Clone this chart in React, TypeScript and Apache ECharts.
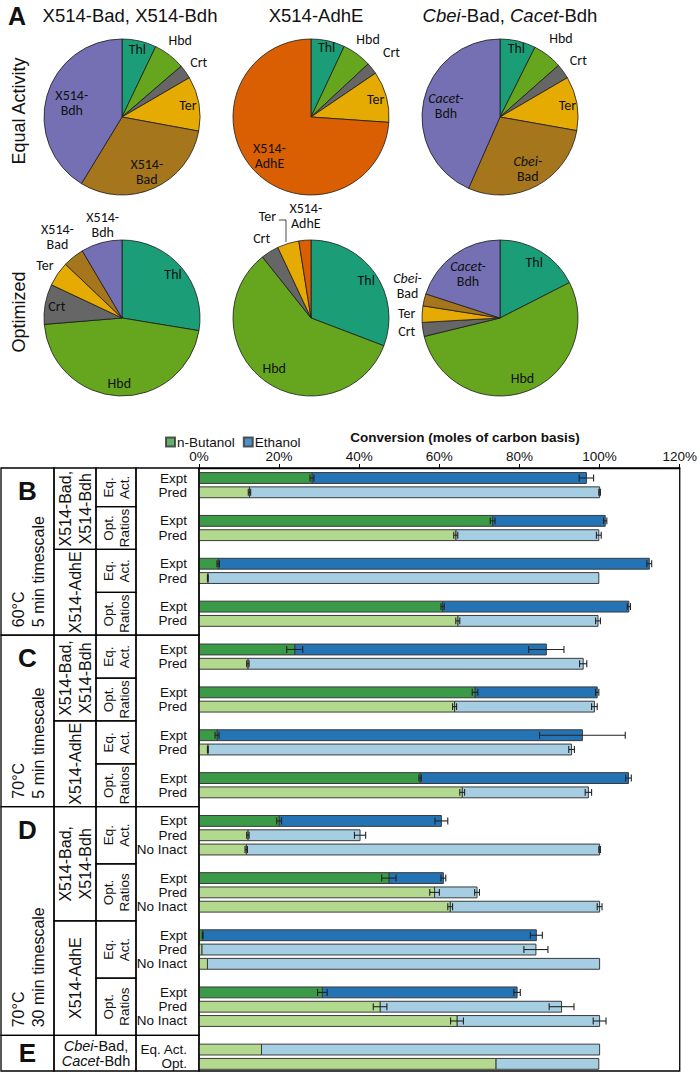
import React, { useEffect, useRef } from 'react';
import * as echarts from 'echarts';

const ARIAL = '"Liberation Sans", Arial, Helvetica, sans-serif';
const CAL = 'Carlito, Lato, "Open Sans", sans-serif';

// ---------------- Panel A: enzyme fractions (%) ----------------
const sliceNamesBadBdh = ['Thl', 'Hbd', 'Crt', 'Ter', 'X514-Bad', 'X514-Bdh'];
const sliceNamesAdhE = ['Thl', 'Hbd', 'Crt', 'Ter', 'X514-AdhE'];
const sliceNamesCbei = ['Thl', 'Hbd', 'Crt', 'Ter', 'Cbei-Bad', 'Cacet-Bdh'];

const eqActBadBdh = [7.1, 6.6, 2.9, 11.3, 30.8, 41.3];
const eqActAdhE = [7.0, 6.1, 2.4, 10.6, 73.9];
const eqActCbei = [7.4, 6.1, 3.1, 11.2, 28.8, 43.4];
const optBadBdh = [27.6, 46.1, 8.3, 5.1, 4.4, 8.5];
const optAdhE = [30.8, 58.5, 3.7, 4.5, 2.5];
const optCbei = [17.5, 53.7, 2.9, 3.4, 2.5, 20.0];

const pieRowTitles = ['Equal Activity', 'Optimized'];

// ---------------- Panels B–E: conversion (%) ----------------
const twoRowLabels = ['Expt', 'Pred'];
const threeRowLabels = ['Expt', 'Pred', 'No Inact'];
const panelERowLabels = ['Eq. Act.', 'Opt.'];
const xTickStep = 20;
const xMax = 120;

// Panel B: 60°C, 5 min  (Bad/Bdh Eq, Bad/Bdh Opt, AdhE Eq, AdhE Opt) x (Expt, Pred)
const panelBButanol = [28.2, 12.6, 73.3, 64.1, 4.8, 2.2, 60.8, 64.6];
const panelBTotal = [96.7, 100.0, 101.4, 99.8, 112.4, 99.8, 107.3, 99.6];
const panelBButanolErr = [0.5, 0.3, 0.6, 0.5, 0.3, 0.1, 0.4, 0.5];
const panelBTotalErr = [1.8, 0.2, 0.4, 0.6, 0.6, 0.0, 0.4, 0.6];

// Panel C: 70°C, 5 min
const panelCButanol = [23.9, 12.2, 68.9, 63.8, 4.5, 2.2, 55.2, 65.7];
const panelCTotal = [86.7, 95.9, 99.4, 98.7, 95.7, 93.0, 107.2, 97.2];
const panelCButanolErr = [2.0, 0.3, 0.7, 0.5, 0.5, 0.1, 0.3, 0.6];
const panelCTotalErr = [4.4, 0.9, 0.4, 0.7, 10.7, 0.7, 0.7, 0.8];

// Panel D: 70°C, 30 min  x (Expt, Pred, No Inact)
const panelDButanol = [20.0, 12.2, 11.8, 47.4, 58.8, 62.7, 0.9, 0.7, 2.1, 30.8, 45.2, 64.4];
const panelDTotal = [60.5, 40.2, 100.0, 61.0, 69.4, 100.0, 84.2, 84.1, 100.0, 79.4, 90.5, 100.0];
const panelDButanolErr = [0.6, 0.3, 0.3, 1.8, 1.2, 0.6, 0.1, 0.0, 0.0, 1.2, 1.7, 1.6];
const panelDTotalErr = [1.6, 1.4, 0.2, 0.6, 0.6, 0.6, 1.5, 3.0, 0.0, 0.8, 3.1, 1.6];

// Panel E: Cbei-Bad, Cacet-Bdh predictions
const panelEButanol = [15.6, 74.1];
const panelETotal = [100.0, 99.8];

// ---------------- layout ----------------
const PIE_R = 78;
const PIE_CENTERS = [[122, 117], [311, 117], [500, 117], [122, 318], [311, 318], [500, 318]];
const PIE_LABEL_RADII = [
  [0.85, 1.19, 1.17, 0.82, 0.74, 0.63],
  [0.88, 1.2, 1.28, 0.82, 0.69],
  [0.87, 1.24, 1.2, 0.84, 0.72, 0.67],
  [0.82, 0.8, 0.81, 1.16, 1.29, 1.19],
  [0.82, 0.76, 1.16, 1.38, 1.3],
  [0.8, 0.79, 1.17, 1.16, 1.22, 0.66],
];
// small pixel nudges for a few pie labels: "pie-slice" -> [dx, dy]
const PIE_LABEL_NUDGE: Record<string, number[]> = {
  '3-5': [6, -1],
  '4-3': [-11, 4],
  '4-4': [3, 2],
  '5-4': [3, -9],
};
const COLS = [1, 54, 96, 136, 199];
const Y_MIN = -0.7;
const Y_MAX = 41.5;

const pieSets = [
  { names: sliceNamesBadBdh, values: eqActBadBdh },
  { names: sliceNamesAdhE, values: eqActAdhE },
  { names: sliceNamesCbei, values: eqActCbei },
  { names: sliceNamesBadBdh, values: optBadBdh },
  { names: sliceNamesAdhE, values: optAdhE },
  { names: sliceNamesCbei, values: optCbei },
];

function sliceColor(n: string) {
  if (n === 'Thl') return '#1b9e77';
  if (n === 'Hbd') return '#66a61e';
  if (n === 'Crt') return '#666666';
  if (n === 'Ter') return '#e6ab02';
  if (n.endsWith('Bad')) return '#a6761d';
  if (n.endsWith('Bdh')) return '#7570b3';
  return '#d95f02';
}
function sliceLabel(n: string) {
  if (n.startsWith('X514-')) return 'X514-\n' + n.slice(5);
  if (n === 'Cbei-Bad') return '{i|Cbei-}\nBad';
  if (n === 'Cacet-Bdh') return '{i|Cacet-}\nBdh';
  return n;
}

function buildPies() {
  const out: any[] = [];
  pieSets.forEach((set, k) => {
    const center = PIE_CENTERS[k];
    out.push({
      type: 'pie', center, radius: PIE_R, startAngle: 90, clockwise: true, silent: true, z: 2,
      label: { show: false }, labelLine: { show: false },
      itemStyle: { borderColor: '#1a1a1a', borderWidth: 0.8 },
      data: set.names.map((n, i) => ({ name: n, value: set.values[i], itemStyle: { color: sliceColor(n) } })),
    });
    const radii = PIE_LABEL_RADII[k];
    Array.from(new Set(radii)).forEach((f) => {
      out.push({
        type: 'pie', center, radius: [(f - 0.04) * PIE_R, (f + 0.04) * PIE_R], startAngle: 90, clockwise: true,
        silent: true, z: 3, minShowLabelAngle: 0, avoidLabelOverlap: false,
        labelLayout: (p: any) => {
          const o = PIE_LABEL_NUDGE[k + '-' + p.dataIndex];
          return o ? { dx: o[0], dy: o[1], hideOverlap: false } : { hideOverlap: false };
        },
        itemStyle: { color: 'rgba(0,0,0,0)', borderWidth: 0 },
        labelLine: { show: false },
        emphasis: { disabled: true },
        label: {
          show: true, position: 'inside', rotate: 0, overflow: 'none', color: '#111', fontFamily: CAL, fontSize: 14, lineHeight: 15,
          formatter: (p: any) => sliceLabel(p.name),
          rich: { i: { fontStyle: 'italic', fontFamily: CAL, fontSize: 14, lineHeight: 15, color: '#111' } },
        },
        data: set.names.map((n, i) => ({ name: n, value: set.values[i], label: { show: radii[i] === f } })),
      });
    });
  });
  return out;
}

// ---------------- bar rows ----------------
type Row = { pos: number; label: string; but: number; tot: number; be: number; te: number; kind: number };
const rows: Row[] = [];
const panelRanges: { start: number; groupEnds: number[] }[] = [];
let cursor = 0;
function addPanel(but: number[], tot: number[], be: number[] | null, te: number[] | null, labels: string[]) {
  const start = cursor === 0 ? Y_MIN : cursor - 1;
  const n = labels.length;
  const ends: number[] = [];
  for (let g = 0; g < but.length / n; g++) {
    for (let i = 0; i < n; i++) {
      const j = g * n + i;
      rows.push({ pos: cursor, label: labels[i], but: but[j], tot: tot[j], be: be ? be[j] : 0, te: te ? te[j] : 0, kind: labels[i] === 'Expt' ? 0 : 1 });
      cursor++;
    }
    ends.push(cursor);
    cursor++;
  }
  panelRanges.push({ start, groupEnds: ends });
}
addPanel(panelBButanol, panelBTotal, panelBButanolErr, panelBTotalErr, twoRowLabels);
addPanel(panelCButanol, panelCTotal, panelCButanolErr, panelCTotalErr, twoRowLabels);
addPanel(panelDButanol, panelDTotal, panelDButanolErr, panelDTotalErr, threeRowLabels);
addPanel(panelEButanol, panelETotal, null, null, panelERowLabels);

const panelLetters = ['B', 'C', 'D'];
const panelTemps = ['60°C\n5 min timescale', '70°C\n5 min timescale', '70°C\n30 min timescale'];
const enzymeTexts = ['X514-Bad,\nX514-Bdh', 'X514-AdhE'];
const condTexts = ['Eq.\nAct.', 'Opt.\nRatios'];

type Cell = { y0: number; y1: number; x0: number; x1: number; kind: string; text?: string };
const cells: Cell[] = [];
panelRanges.slice(0, 3).forEach((pr, p) => {
  const end = pr.groupEnds[3];
  cells.push({ y0: pr.start, y1: end, x0: COLS[0], x1: COLS[1], kind: 'panel', text: String(p) });
  cells.push({ y0: pr.start, y1: pr.groupEnds[1], x0: COLS[1], x1: COLS[2], kind: 'enz', text: enzymeTexts[0] });
  cells.push({ y0: pr.groupEnds[1], y1: end, x0: COLS[1], x1: COLS[2], kind: 'enz', text: enzymeTexts[1] });
  pr.groupEnds.forEach((e, g) => {
    cells.push({ y0: g === 0 ? pr.start : pr.groupEnds[g - 1], y1: e, x0: COLS[2], x1: COLS[3], kind: 'cond', text: condTexts[g % 2] });
  });
  cells.push({ y0: pr.start, y1: end, x0: COLS[3], x1: COLS[4], kind: 'box' });
});
{
  const pr = panelRanges[3];
  cells.push({ y0: pr.start, y1: Y_MAX, x0: COLS[0], x1: COLS[1], kind: 'letterE' });
  cells.push({ y0: pr.start, y1: Y_MAX, x0: COLS[1], x1: COLS[3], kind: 'strainE' });
  cells.push({ y0: pr.start, y1: Y_MAX, x0: COLS[3], x1: COLS[4], kind: 'box' });
}

const COLORS = [
  ['#3a9a48', '#2474b5'],
  ['#b3d98e', '#a6cee3'],
];

function renderBar(params: any, api: any) {
  const pos = api.value(1);
  const but = api.value(2);
  const tot = api.value(3);
  const be = api.value(4);
  const te = api.value(5);
  const kind = api.value(6);
  const row = rows[params.dataIndex];
  const p0 = api.coord([0, pos]);
  const pb = api.coord([but, pos]);
  const pt = api.coord([tot, pos]);
  const h = api.size([0, 0.76])[1];
  const c = COLORS[kind];
  const children: any[] = [
    { type: 'rect', shape: { x: pb[0], y: p0[1] - h / 2, width: pt[0] - pb[0], height: h }, style: { fill: c[1], stroke: '#3a3a3a', lineWidth: 1 } },
    { type: 'rect', shape: { x: p0[0], y: p0[1] - h / 2, width: pb[0] - p0[0], height: h }, style: { fill: c[0], stroke: '#3a3a3a', lineWidth: 1 } },
  ];
  const err = (v: number, e: number) => {
    if (!(e > 0)) return;
    const a = api.coord([v - e, pos]);
    const b = api.coord([v + e, pos]);
    const ch = h * 0.32;
    const st = { stroke: '#222', lineWidth: 1.1 };
    children.push({ type: 'line', shape: { x1: a[0], y1: a[1], x2: b[0], y2: b[1] }, style: st });
    children.push({ type: 'line', shape: { x1: a[0], y1: a[1] - ch, x2: a[0], y2: a[1] + ch }, style: st });
    children.push({ type: 'line', shape: { x1: b[0], y1: b[1] - ch, x2: b[0], y2: b[1] + ch }, style: st });
  };
  err(but, be);
  err(tot, te);
  children.push({
    type: 'text', x: p0[0] - 12, y: p0[1],
    style: { text: row.label, fill: '#111', fontSize: 13.5, fontFamily: ARIAL, align: 'right', verticalAlign: 'middle', textAlign: 'right', textVerticalAlign: 'middle' },
  });
  return { type: 'group', children };
}

function txt(x: number, y: number, text: string, size: number, opts: any = {}) {
  return {
    type: 'text', x, y, rotation: opts.rotation || 0,
    style: {
      text, fill: '#111', fontSize: size, fontFamily: ARIAL, fontWeight: opts.bold ? 'bold' : 'normal',
      align: opts.align || 'center', verticalAlign: 'middle', textAlign: opts.align || 'center', textVerticalAlign: 'middle',
      lineHeight: opts.lineHeight || size * 1.2, rich: opts.rich,
    },
  };
}

function renderCell(params: any, api: any) {
  const cell = cells[params.dataIndex];
  const top = api.coord([0, api.value(1)])[1];
  const bottom = api.coord([0, api.value(2)])[1];
  const cx = (cell.x0 + cell.x1) / 2;
  const cy = (top + bottom) / 2;
  const children: any[] = [
    { type: 'rect', shape: { x: cell.x0, y: top, width: cell.x1 - cell.x0, height: bottom - top }, style: { fill: 'none', stroke: '#000', lineWidth: 1.3 } },
  ];
  const R = Math.PI / 2;
  if (cell.kind === 'panel') {
    const p = Number(cell.text);
    children.push(txt(cx, top + 23, panelLetters[p], 26, { bold: true }));
    children.push(txt(cx + 0.5, bottom - 8, panelTemps[p], 16, { rotation: R, align: 'left', lineHeight: 20 }));
  } else if (cell.kind === 'enz') {
    children.push(txt(cx, cy, cell.text!, 16, { rotation: R, lineHeight: 20 }));
  } else if (cell.kind === 'cond') {
    children.push(txt(cx, cy, cell.text!, 13.5, { rotation: R, lineHeight: 16 }));
  } else if (cell.kind === 'letterE') {
    children.push(txt(cx, cy, 'E', 26, { bold: true }));
  } else if (cell.kind === 'strainE') {
    children.push(txt(cx + 1, cy, '{i|Cbei}-Bad,\n{i|Cacet}-Bdh', 14.5, { lineHeight: 15, rich: { i: { fontStyle: 'italic', fontSize: 14.5, fontFamily: ARIAL, fill: '#111', color: '#111' } } }));
  }
  return { type: 'group', children };
}

function buildOption() {
  const R = Math.PI / 2;
  return {
    animation: false,
    backgroundColor: '#fff',
    textStyle: { fontFamily: ARIAL },
    grid: { left: COLS[4], right: 20, top: 468, bottom: 5, show: true, borderColor: '#000', borderWidth: 1.3, containLabel: false },
    xAxis: {
      type: 'value', position: 'top', min: 0, max: xMax, interval: xTickStep,
      axisLine: { show: true, onZero: false, lineStyle: { color: '#000', width: 1.3 } },
      axisTick: { show: true, length: 4, lineStyle: { color: '#000' } },
      axisLabel: { formatter: '{value}%', fontSize: 13.5, color: '#111', fontFamily: ARIAL, margin: 5 },
      splitLine: { show: false },
    },
    yAxis: { type: 'value', inverse: true, min: Y_MIN, max: Y_MAX, show: false, splitLine: { show: false } },
    legend: {
      top: 430, left: 160, itemWidth: 9, itemHeight: 9, itemGap: 8, selectedMode: false,
      textStyle: { fontFamily: ARIAL, fontSize: 13.5, color: '#111', padding: [0, 0, 0, -3] },
      data: [{ name: 'n-Butanol', icon: 'rect' }, { name: 'Ethanol', icon: 'rect' }],
    },
    graphic: [
      txt(17, 16, 'A', 25, { bold: true }),
      txt(130, 15, 'X514-Bad, X514-Bdh', 18.5),
      txt(316, 15, 'X514-AdhE', 18.5),
      txt(510, 15, '{i|Cbei}-Bad, {i|Cacet}-Bdh', 18.5, { rich: { i: { fontStyle: 'italic', fontSize: 18.5, fontFamily: ARIAL, fill: '#111', color: '#111' } } }),
      txt(19, 111, pieRowTitles[0], 18, { rotation: R }),
      txt(19, 312, pieRowTitles[1], 18, { rotation: R }),
      txt(465, 437, 'Conversion (moles of carbon basis)', 13.5, { bold: true }),
      // leader line from the "Ter" label to its slice (optimized X514-AdhE pie)
      { type: 'polyline', silent: true, z: 10, shape: { points: [[279, 220], [286, 220], [286, 242]] }, style: { stroke: '#333', lineWidth: 0.9, fill: 'none' } },
    ],
    series: [
      ...buildPies(),
      { type: 'scatter', name: 'n-Butanol', data: [], itemStyle: { color: COLORS[0][0], borderColor: '#333', borderWidth: 1 } },
      { type: 'scatter', name: 'Ethanol', data: [], itemStyle: { color: COLORS[0][1], borderColor: '#333', borderWidth: 1 } },
      {
        type: 'custom', name: 'table', silent: true, clip: false, z: 5,
        encode: { x: 0, y: [1, 2] },
        data: cells.map((c, i) => [0, c.y0, c.y1, i]),
        renderItem: renderCell,
      },
      {
        type: 'custom', name: 'bars', silent: true, clip: false, z: 4,
        encode: { x: 3, y: 1 },
        data: rows.map((r, i) => [0, r.pos, r.but, r.tot, r.be, r.te, r.kind, i]),
        renderItem: renderBar,
      },
    ],
  };
}

export default function App() {
  const ref = useRef<HTMLDivElement>(null);
  useEffect(() => {
    const chart = echarts.init(ref.current!, null, { renderer: 'svg' });
    chart.setOption(buildOption() as any);
    return () => chart.dispose();
  }, []);
  return <div ref={ref} style={{ position: 'absolute', left: 0, top: 0, width: 700, height: 1076, background: '#fff' }} />;
}
